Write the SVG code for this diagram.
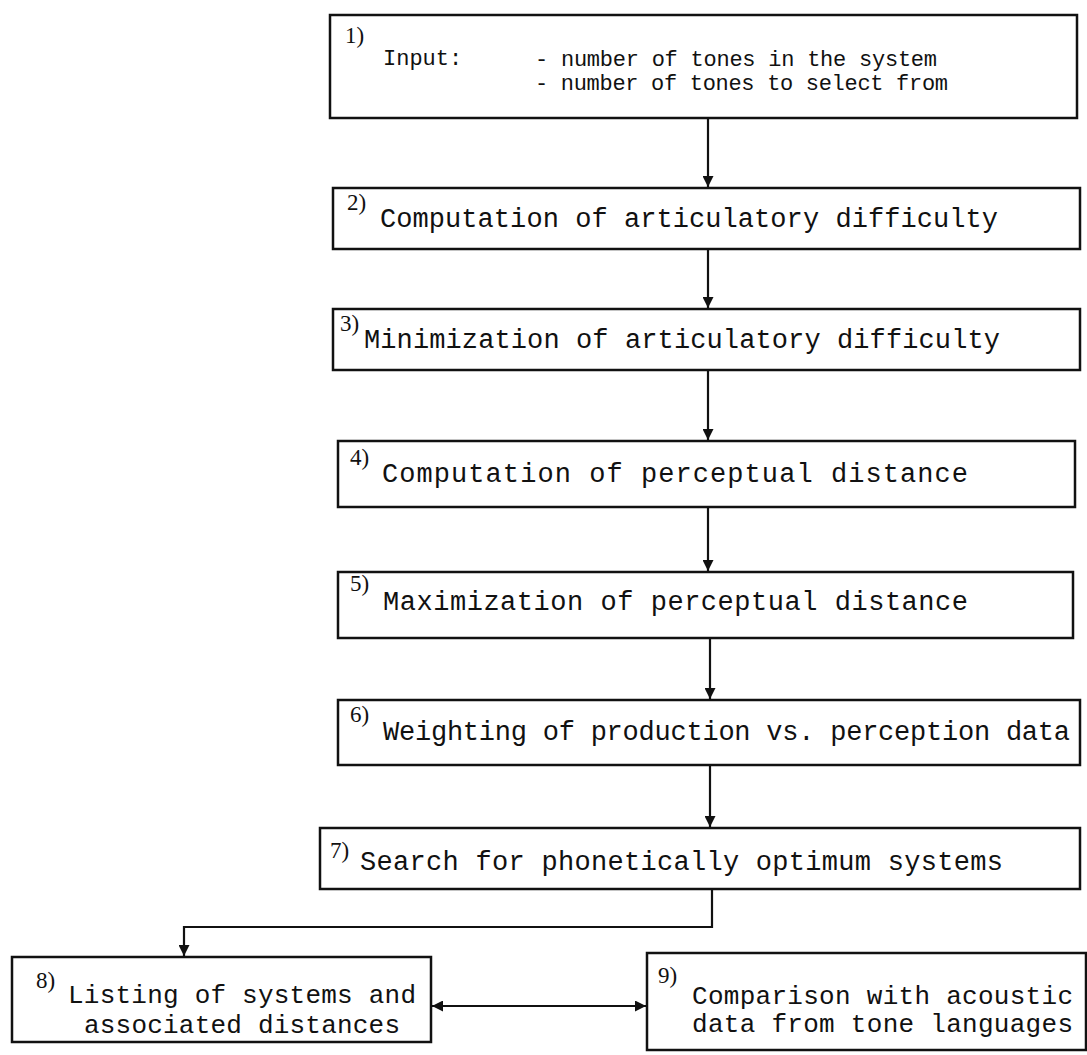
<svg xmlns="http://www.w3.org/2000/svg" width="1087" height="1055" viewBox="0 0 1087 1055">
<style>
  .box { fill: #fff; stroke: #111; stroke-width: 2.5; }
  .t { font-family: "Liberation Mono", "DejaVu Sans Mono", monospace; font-size: 27px; fill: #111; }
  .t2 { font-family: "Liberation Mono", "DejaVu Sans Mono", monospace; font-size: 26px; fill: #111; }
  .t1 { font-family: "Liberation Mono", "DejaVu Sans Mono", monospace; font-size: 22px; fill: #111; }
  .n { font-family: "Liberation Serif", serif; font-size: 23px; fill: #111; }
  .c { fill: none; stroke: #111; stroke-width: 2.2; }
</style>
<defs>
  <marker id="ah" viewBox="0 0 10 10" refX="10" refY="5" markerWidth="5.5" markerHeight="5" orient="auto-start-reverse" markerUnits="strokeWidth">
    <path d="M0,0 L10,5 L0,10 z" fill="#111"/>
  </marker>
</defs>
<rect width="1087" height="1055" fill="#fff"/>

<g id="connectors">
  <line class="c" x1="708" y1="118" x2="708" y2="187" marker-end="url(#ah)"/>
  <line class="c" x1="708" y1="249" x2="708" y2="308" marker-end="url(#ah)"/>
  <line class="c" x1="708" y1="370" x2="708" y2="440" marker-end="url(#ah)"/>
  <line class="c" x1="708" y1="507" x2="708" y2="571" marker-end="url(#ah)"/>
  <line class="c" x1="710" y1="638" x2="710" y2="699" marker-end="url(#ah)"/>
  <line class="c" x1="710" y1="765" x2="710" y2="827" marker-end="url(#ah)"/>
  <polyline class="c" points="712,889 712,927 184,927 184,956" marker-end="url(#ah)"/>
  <line class="c" x1="432" y1="1006" x2="646" y2="1006" marker-start="url(#ah)" marker-end="url(#ah)"/>
</g>

<g id="node1">
  <rect class="box" x="330" y="15" width="747" height="103"/>
  <text class="n" x="345" y="43">1)</text>
  <text class="t1" x="383" y="65">Input:</text>
  <text class="t1" x="535" y="66" textLength="402">- number of tones in the system</text>
  <text class="t1" x="535" y="90" textLength="413">- number of tones to select from</text>
</g>

<g id="node2">
  <rect class="box" x="333" y="188" width="747" height="61"/>
  <text class="n" x="347" y="210">2)</text>
  <text class="t" x="380" y="227" textLength="618">Computation of articulatory difficulty</text>
</g>

<g id="node3">
  <rect class="box" x="333" y="309" width="747" height="61"/>
  <text class="n" x="340" y="331">3)</text>
  <text class="t" x="364" y="348" textLength="636">Minimization of articulatory difficulty</text>
</g>

<g id="node4">
  <rect class="box" x="338" y="441" width="737" height="66"/>
  <text class="n" x="350" y="465">4)</text>
  <text class="t" x="382" y="482" textLength="586">Computation of perceptual distance</text>
</g>

<g id="node5">
  <rect class="box" x="338" y="572" width="735" height="66"/>
  <text class="n" x="350" y="591">5)</text>
  <text class="t" x="383" y="610" textLength="585">Maximization of perceptual distance</text>
</g>

<g id="node6">
  <rect class="box" x="338" y="700" width="742" height="65"/>
  <text class="n" x="350" y="722">6)</text>
  <text class="t" x="383" y="740" textLength="687">Weighting of production vs. perception data</text>
</g>

<g id="node7">
  <rect class="box" x="320" y="828" width="760" height="61"/>
  <text class="n" x="330" y="858">7)</text>
  <text class="t" x="360" y="870" textLength="643">Search for phonetically optimum systems</text>
</g>

<g id="node8">
  <rect class="box" x="12" y="957" width="419" height="85"/>
  <text class="n" x="36" y="988">8)</text>
  <text class="t2" x="68" y="1003" textLength="348">Listing of systems and</text>
  <text class="t2" x="84" y="1033" textLength="316">associated distances</text>
</g>

<g id="node9">
  <rect class="box" x="647" y="953" width="439" height="97"/>
  <text class="n" x="658" y="983">9)</text>
  <text class="t2" x="692" y="1004" textLength="381">Comparison with acoustic</text>
  <text class="t2" x="692" y="1032" textLength="381">data from tone languages</text>
</g>
</svg>
